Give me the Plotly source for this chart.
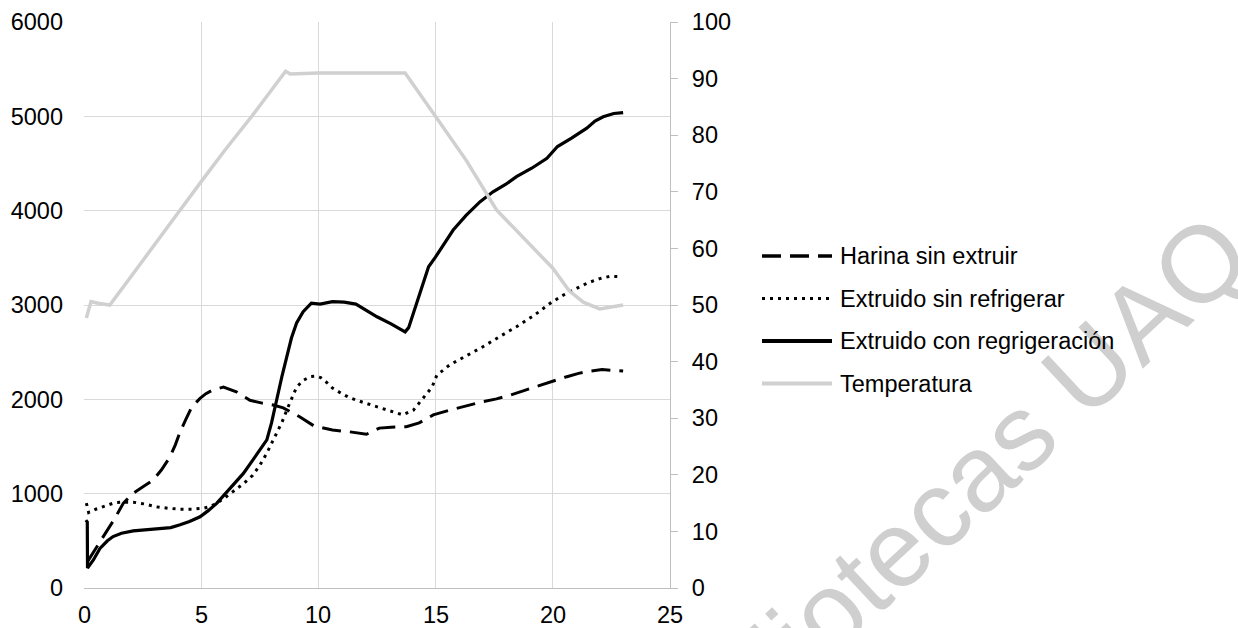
import plotly.graph_objects as go

# ---- data -------------------------------------------------------------
series_names = [
    "Harina sin extruir",
    "Extruido sin refrigerar",
    "Extruido con regrigeración",
    "Temperatura",
]

harina_x = [0.15, 0.4, 0.68, 1.0, 1.32, 1.68, 2.1, 2.5, 2.95, 3.3, 3.67, 3.9, 4.1,
            4.35, 4.6, 4.95, 5.2, 5.5, 5.95, 6.5, 7.08, 7.6, 8.07, 8.5, 8.8, 9.2,
            9.8, 10.2, 10.6, 11.35, 12.05, 12.3, 12.6, 13.1, 13.75, 14.3, 14.9,
            15.6, 16.3, 17.0, 17.6, 18.2, 18.8, 19.45, 20.0, 20.6, 21.1, 21.6,
            22.1, 22.6, 23.0]
harina_y = [280, 380, 490, 610, 740, 900, 1005, 1070, 1145, 1250, 1390, 1520, 1655,
            1790, 1920, 2010, 2060, 2100, 2130, 2080, 1990, 1960, 1940, 1910, 1870,
            1815, 1720, 1695, 1675, 1655, 1630, 1660, 1695, 1705, 1710, 1750, 1835,
            1885, 1930, 1975, 2005, 2045, 2095, 2150, 2195, 2240, 2275, 2300, 2315,
            2310, 2300]

sin_ref_x = [0.1, 0.2, 0.5, 0.9, 1.32, 1.7, 2.1, 2.6, 3.1, 3.6, 4.1, 4.6, 5.1, 5.4,
             5.67, 6.0, 6.37, 6.8, 7.2, 7.5, 7.8, 8.0, 8.2, 8.45, 8.65, 8.85, 9.07,
             9.35, 9.64, 9.9, 10.1, 10.35, 10.6, 11.0, 11.35, 12.0, 12.5, 13.1, 13.6,
             14.05, 14.4, 14.85, 15.05, 15.6, 16.3, 17.0, 17.7, 18.45, 19.2, 19.9,
             20.45, 21.0, 21.45, 22.0, 22.45, 22.9]
sin_ref_y = [900, 800, 835, 870, 905, 910, 910, 890, 860, 845, 835, 835, 845, 865,
             900, 955, 1020, 1105, 1195, 1300, 1430, 1530, 1640, 1760, 1885, 2010,
             2130, 2200, 2240, 2245, 2230, 2180, 2120, 2060, 2015, 1960, 1920, 1875,
             1835, 1885, 1990, 2130, 2255, 2365, 2460, 2555, 2660, 2770, 2890, 3020,
             3105, 3170, 3230, 3280, 3305, 3300]

con_ref_x = [0.08, 0.14, 0.15, 0.4, 0.68, 1.0, 1.24, 1.6, 2.1, 2.7, 3.24, 3.7, 4.1,
             4.5, 4.95, 5.3, 5.67, 6.0, 6.37, 6.8, 7.2, 7.5, 7.8, 8.0, 8.2, 8.45,
             8.65, 8.85, 9.07, 9.35, 9.7, 10.07, 10.6, 11.1, 11.6, 12.0, 12.5, 13.1,
             13.7, 13.85, 14.05, 14.4, 14.7, 15.0, 15.4, 15.75, 16.3, 16.9, 17.45,
             18.0, 18.45, 19.1, 19.75, 20.2, 20.8, 21.45, 21.8, 22.15, 22.6, 23.0]
con_ref_y = [720, 700, 212, 297, 420, 500, 545, 580, 605, 615, 625, 640, 670, 705,
             755, 820, 900, 990, 1090, 1215, 1355, 1460, 1570, 1750, 1990, 2250,
             2450, 2650, 2810, 2930, 3020, 3010, 3035, 3030, 3010, 2950, 2875, 2800,
             2715, 2760, 2915, 3200, 3405, 3510, 3660, 3795, 3950, 4095, 4200, 4280,
             4360, 4450, 4555, 4680, 4770, 4875, 4950, 4995, 5030, 5040]

temp_x = [0.1, 0.3, 0.6, 1.1, 2.0, 3.0, 4.0, 5.0, 6.0, 7.15, 8.0, 8.6, 8.8, 10.0,
          11.0, 12.0, 13.0, 13.7, 15.0, 16.3, 17.6, 20.0, 20.7, 21.3, 22.0, 22.5, 23.0]
temp_y = [47.7, 50.6, 50.3, 50.0, 55.0, 60.5, 66.2, 71.8, 77.3, 83.3, 88.0, 91.3,
          90.8, 91.0, 91.0, 91.0, 91.0, 91.0, 83.3, 75.6, 66.8, 56.5, 52.5, 50.5,
          49.3, 49.6, 50.0]

x_ticks = [0, 5, 10, 15, 20, 25]
y_ticks = [0, 1000, 2000, 3000, 4000, 5000, 6000]
y2_ticks = [0, 10, 20, 30, 40, 50, 60, 70, 80, 90, 100]

# ---- styles -------------------------------------------------------------
FONT = "Liberation Sans, Arial, sans-serif"
FS = 23.5
GRID = "#D9D9D9"
AXIS = "#BFBFBF"
TEMP = "#D0D0D0"
DASH = "19px,9px"
DOT = "3px,5px"

# plot area in pixels
L, R, T, B = 84, 670, 22, 588
W, H = 1238, 628


def px_x(p):
    return (p - L) / (R - L)


def px_y(p):
    return (B - p) / (B - T)


fig = go.Figure()

fig.add_trace(go.Scatter(x=temp_x, y=temp_y, yaxis="y2", mode="lines",
                         name=series_names[3], showlegend=False,
                         line=dict(color=TEMP, width=3.5)))
fig.add_trace(go.Scatter(x=harina_x, y=harina_y, mode="lines",
                         name=series_names[0], showlegend=False,
                         line=dict(color="black", width=3, dash=DASH)))
fig.add_trace(go.Scatter(x=sin_ref_x, y=sin_ref_y, mode="lines",
                         name=series_names[1], showlegend=False,
                         line=dict(color="black", width=3, dash=DOT)))
fig.add_trace(go.Scatter(x=con_ref_x, y=con_ref_y, mode="lines",
                         name=series_names[2], showlegend=False,
                         line=dict(color="black", width=3.2)))

shapes = []
annotations = []

# library watermark
annotations.append(dict(
    text="Bibliotecas UAQ", xref="paper", yref="paper",
    x=px_x(943), y=px_y(503), xanchor="center", yanchor="middle",
    showarrow=False, textangle=-43,
    font=dict(family=FONT, size=108, color="#CFCFCF"),
))

# x tick labels, placed on the x scale below the axis line
for v in x_ticks:
    annotations.append(dict(text=str(v), xref="x", yref="paper",
                            x=v, y=px_y(615), xanchor="center",
                            yanchor="middle", showarrow=False,
                            font=dict(family=FONT, size=FS, color="black")))

# ---- legend drawn beside the plot ---------------------------------------
legend_rows = [256, 298.5, 341, 383.5]
legend_styles = [
    dict(color="black", width=3.5, dash=DASH),
    dict(color="black", width=3, dash=DOT),
    dict(color="black", width=4),
    dict(color=TEMP, width=4),
]
for name, row, style in zip(series_names, legend_rows, legend_styles):
    shapes.append(dict(type="line", xref="paper", yref="paper",
                       x0=px_x(762), x1=px_x(832), y0=px_y(row), y1=px_y(row),
                       line=style))
    annotations.append(dict(text=name, xref="paper", yref="paper",
                            x=px_x(838), y=px_y(row), xanchor="left",
                            yanchor="middle", showarrow=False,
                            font=dict(family=FONT, size=FS, color="black")))

fig.update_layout(
    width=W, height=H,
    margin=dict(l=L, r=W - R, t=T, b=H - B, pad=0),
    paper_bgcolor="white", plot_bgcolor="white",
    font=dict(family=FONT, size=FS, color="black"),
    showlegend=False,
    shapes=shapes,
    annotations=annotations,
    xaxis=dict(range=[0, 25], tickvals=x_ticks, showgrid=True, gridcolor=GRID,
               gridwidth=1.3, showline=True, linecolor=AXIS, linewidth=1.3,
               zeroline=False, ticks="", showticklabels=False,
               automargin=False),
    yaxis=dict(range=[0, 6000], tickvals=y_ticks, showgrid=True, gridcolor=GRID,
               gridwidth=1.3, showline=False, zeroline=False, ticks="",
               ticklabelstandoff=20, automargin=False, tickfont=dict(size=FS)),
    yaxis2=dict(range=[0, 100], tickvals=y2_ticks, overlaying="y", side="right",
                showgrid=False, zeroline=False, showline=True, linecolor=AXIS,
                linewidth=1.3, ticks="outside", ticklen=7, tickcolor=AXIS,
                tickwidth=1.3, ticklabelstandoff=9, automargin=False,
                tickfont=dict(size=FS)),
)

fig.write_html("out.html")
